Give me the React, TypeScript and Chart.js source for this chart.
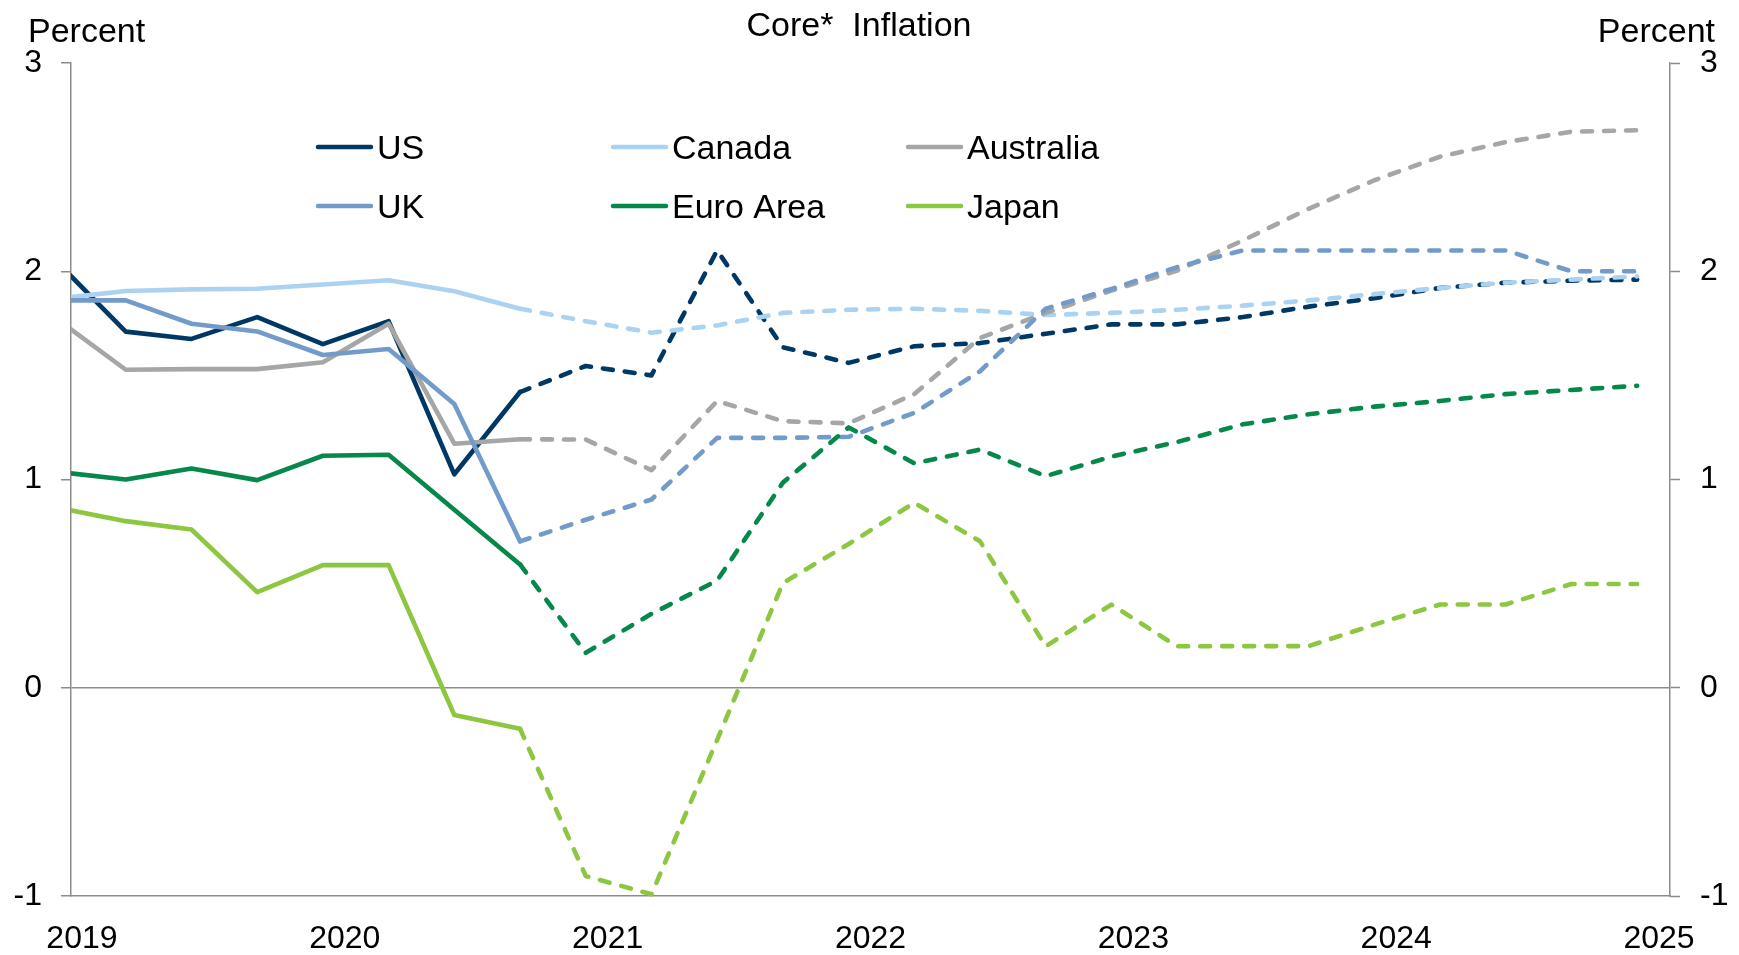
import React, { useEffect, useRef } from 'react';
import { Chart, registerables } from 'chart.js';

Chart.register(...registerables);

// ---------- data ----------
const quarters = [
  '2018Q4',
  '2019Q1', '2019Q2', '2019Q3', '2019Q4',
  '2020Q1', '2020Q2', '2020Q3', '2020Q4',
  '2021Q1', '2021Q2', '2021Q3', '2021Q4',
  '2022Q1', '2022Q2', '2022Q3', '2022Q4',
  '2023Q1', '2023Q2', '2023Q3', '2023Q4',
  '2024Q1', '2024Q2', '2024Q3', '2024Q4',
];
const yearLabels = ['2019', '2020', '2021', '2022', '2023', '2024', '2025'];
const yTickValues = [-1, 0, 1, 2, 3];
const lastActualIndex = 7; // 2020Q3: solid up to here, dashed (forecast) after

const usValues = [2.03, 1.71, 1.675, 1.78, 1.65, 1.76, 1.025, 1.42, 1.545, 1.5, 2.1, 1.635, 1.56, 1.64, 1.655, 1.7, 1.745, 1.745, 1.78, 1.83, 1.87, 1.92, 1.945, 1.955, 1.96];
const canadaValues = [1.87, 1.905, 1.913, 1.916, 1.936, 1.957, 1.904, 1.82, 1.76, 1.705, 1.74, 1.8, 1.815, 1.82, 1.81, 1.79, 1.8, 1.815, 1.835, 1.86, 1.89, 1.92, 1.945, 1.96, 1.975];
const australiaValues = [1.76, 1.527, 1.53, 1.53, 1.563, 1.748, 1.172, 1.193, 1.192, 1.045, 1.377, 1.28, 1.27, 1.41, 1.68, 1.8, 1.907, 2.003, 2.148, 2.3, 2.437, 2.55, 2.62, 2.67, 2.677];
const ukValues = [1.86, 1.86, 1.748, 1.711, 1.598, 1.627, 1.362, 0.703, 0.807, 0.904, 1.2, 1.2, 1.205, 1.32, 1.52, 1.82, 1.915, 2.02, 2.1, 2.1, 2.1, 2.1, 2.1, 2.0, 2.0];
const euroValues = [1.035, 1.0, 1.053, 0.997, 1.114, 1.119, 0.855, 0.592, 0.168, 0.355, 0.515, 0.985, 1.25, 1.078, 1.144, 1.016, 1.11, 1.18, 1.265, 1.313, 1.35, 1.377, 1.41, 1.43, 1.45];
const japanValues = [0.862, 0.8, 0.76, 0.459, 0.589, 0.589, -0.131, -0.197, -0.904, -0.992, -0.25, 0.503, 0.69, 0.888, 0.703, 0.199, 0.399, 0.199, 0.2, 0.2, 0.303, 0.4, 0.4, 0.498, 0.498];

const seriesNames = ['US', 'Canada', 'Australia', 'UK', 'Euro Area', 'Japan'];
const seriesValues = [usValues, canadaValues, australiaValues, ukValues, euroValues, japanValues];
const seriesColors = ['#003865', '#abd3f1', '#a6a6a6', '#739bca', '#06884a', '#8dc641'];

// ---------- styling ----------
const FONT = '"Liberation Sans", Arial, Helvetica, sans-serif';
const AXIS = '#8c8c8c';
const W = 1739;
const H = 955;

// month position (Jan 2019 = 0), quarter-end month centre
const quarterToX = (q: string) => {
  const y = parseInt(q.slice(0, 4), 10);
  const n = parseInt(q.slice(5), 10);
  return (y - 2019) * 12 + n * 3 - 0.5;
};

const textPlugin = {
  id: 'textPlugin',
  afterDraw(chart: any) {
    const ctx = chart.ctx;
    ctx.save();
    ctx.fillStyle = '#000';
    ctx.textBaseline = 'alphabetic';
    ctx.font = `34px ${FONT}`;
    ctx.textAlign = 'center';
    ctx.fillText('Core*  Inflation', 859, 36);
    ctx.textAlign = 'left';
    ctx.fillText('Percent', 28, 42);
    ctx.textAlign = 'right';
    ctx.fillText('Percent', 1715, 42);

    // legend (3 columns x 2 rows)
    const colX = [318, 613, 908];
    const rowY = [147, 206];
    ctx.textAlign = 'left';
    seriesNames.forEach((name, i) => {
      const col = i % 3;
      const row = Math.floor(i / 3);
      const x = colX[col];
      const y = rowY[row];
      ctx.strokeStyle = seriesColors[i];
      ctx.lineWidth = 4.5;
      ctx.lineCap = 'round';
      ctx.beginPath();
      ctx.moveTo(x, y);
      ctx.lineTo(x + 53, y);
      ctx.stroke();
      ctx.fillStyle = '#000';
      ctx.fillText(name, x + 59, y + 12);
    });
    ctx.restore();
  },
};

export default function App() {
  const canvasRef = useRef<HTMLCanvasElement | null>(null);

  useEffect(() => {
    document.body.style.margin = '0';
    const canvas = canvasRef.current;
    if (!canvas) return;

    const datasets = seriesNames.map((name, i) => ({
      label: name,
      data: quarters.map((q, k) => ({ x: quarterToX(q), y: seriesValues[i][k] })),
      borderColor: seriesColors[i],
      backgroundColor: seriesColors[i],
      borderWidth: 4.6,
      pointRadius: 0,
      pointHoverRadius: 0,
      fill: false,
      tension: 0,
      borderCapStyle: 'round',
      borderJoinStyle: 'round',
      order: seriesNames.length - i,
      clip: { left: 0, top: 6, right: 6, bottom: 6 },
      segment: {
        borderDash: (ctx: any) => (ctx.p0DataIndex >= lastActualIndex ? [10, 12] : undefined),
      },
    }));

    const tickFont = { family: FONT, size: 32 };

    const chart = new Chart(canvas, {
      type: 'line',
      data: { datasets } as any,
      plugins: [textPlugin],
      options: {
        responsive: false,
        devicePixelRatio: 1,
        animation: false,
        layout: { padding: { top: 63, left: 0, right: 0, bottom: 0 } },
        plugins: {
          legend: { display: false },
          tooltip: { enabled: false },
          title: { display: false },
        },
        scales: {
          x: {
            type: 'linear',
            min: 0,
            max: 73,
            afterBuildTicks: (scale: any) => {
              scale.ticks = yearLabels.map((_, i) => ({ value: i * 12 + 0.5 }));
            },
            ticks: {
              autoSkip: false,
              maxRotation: 0,
              minRotation: 0,
              padding: 24,
              color: '#000',
              font: tickFont,
              callback: (v: any) => {
                const i = Math.round((Number(v) - 0.5) / 12);
                return yearLabels[i] ?? '';
              },
            },
            grid: { display: false, drawTicks: false },
            border: { display: true, color: AXIS, width: 1.5 },
            afterFit: (scale: any) => {
              scale.height = 59;
            },
          },
          y: {
            type: 'linear',
            position: 'left',
            min: -1,
            max: 3,
            afterBuildTicks: (scale: any) => {
              scale.ticks = yTickValues.map((v) => ({ value: v }));
            },
            ticks: {
              padding: 19,
              color: '#000',
              font: tickFont,
              callback: (v: any) => String(v),
            },
            grid: {
              color: (c: any) => (c.tick && c.tick.value === 0 ? AXIS : 'rgba(0,0,0,0)'),
              lineWidth: 1.5,
              drawTicks: true,
              tickLength: 10,
              tickColor: AXIS,
              tickWidth: 1.5,
            },
            border: { display: true, color: AXIS, width: 1.5 },
            afterFit: (scale: any) => {
              scale.width = 71;
            },
          },
          y2: {
            type: 'linear',
            position: 'right',
            min: -1,
            max: 3,
            afterBuildTicks: (scale: any) => {
              scale.ticks = yTickValues.map((v) => ({ value: v }));
            },
            ticks: {
              padding: 20,
              color: '#000',
              font: tickFont,
              callback: (v: any) => String(v),
            },
            grid: {
              drawOnChartArea: false,
              drawTicks: true,
              tickLength: 10,
              tickColor: AXIS,
              tickWidth: 1.5,
              color: AXIS,
            },
            border: { display: true, color: AXIS, width: 1.5 },
            afterFit: (scale: any) => {
              scale.width = 69;
            },
          },
        },
      } as any,
    });

    return () => {
      chart.destroy();
    };
  }, []);

  return (
    <div style={{ position: 'absolute', left: 0, top: 0, width: W, height: H, background: '#fff' }}>
      <canvas ref={canvasRef} width={W} height={H} style={{ width: W, height: H, display: 'block' }} />
    </div>
  );
}
